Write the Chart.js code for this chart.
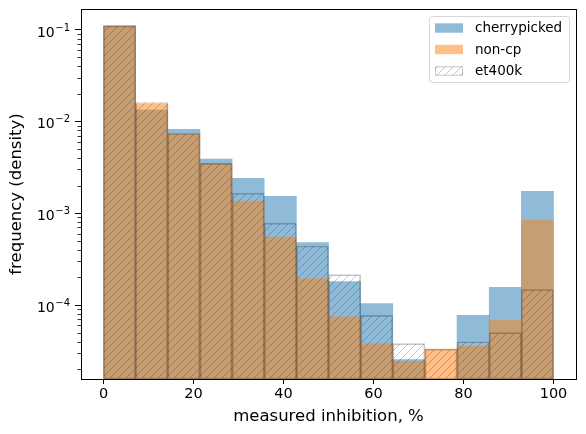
<!DOCTYPE html>
<html>
<head>
<meta charset="utf-8">
<script src="https://cdn.jsdelivr.net/npm/chart.js@4/dist/chart.umd.min.js"></script>
<style>
  html, body { margin: 0; padding: 0; background: #fff; }
  #wrap { width: 586px; height: 434px; }
</style>
</head>
<body>
<div id="wrap"><canvas id="histChart" width="586" height="434"></canvas></div>
<script>
// bin centres (14 equal bins over 0..100)
const binCenters = [3.57, 10.71, 17.86, 25, 32.14, 39.29, 46.43, 53.57, 60.71, 67.86, 75, 82.14, 89.29, 96.43];

const cherrypicked = [0.11, 0.0133, 0.0082, 0.0039, 0.0024, 0.00153, 0.00048, 0.00018, 0.000104, 2.55e-5, null, 7.7e-5, 0.000156, 0.00173];
const nonCp = [0.11, 0.0154, 0.0074, 0.0035, 0.00136, 0.00055, 0.000194, 7.45e-5, 3.8e-5, 2.43e-5, 3.31e-5, 3.54e-5, 6.8e-5, 0.00084];
const et400k = [0.11, 0.0161, 0.0074, 0.0035, 0.00165, 0.00078, 0.00044, 0.000214, 7.7e-5, 3.79e-5, 3.31e-5, 3.98e-5, 5.0e-5, 0.000147];

const xTicks = [0, 20, 40, 60, 80, 100];
const yTicks = [1e-4, 1e-3, 1e-2, 1e-1];
const seriesLabels = ['cherrypicked', 'non-cp', 'et400k'];

const FONT = 'DejaVu Sans';
const hatchEdge = 'rgba(0,0,0,0.22)';

function makeHatch() {
    const c = document.createElement('canvas');
    c.width = 8; c.height = 8;
    const g = c.getContext('2d');
    g.strokeStyle = hatchEdge;
    g.lineWidth = 1;
    g.beginPath();
    g.moveTo(0, 8); g.lineTo(8, 0);
    g.moveTo(-4, 4); g.lineTo(4, -4);
    g.moveTo(4, 12); g.lineTo(12, 4);
    g.stroke();
    return g.createPattern(c, 'repeat');
}
const hatch = makeHatch();

function toPoints(values) {
    return values.map((v, i) => ({ x: binCenters[i], y: v }));
}

const minorTicks = [];
for (let e = -5; e <= -1; e++) {
    for (let m = 2; m <= 9; m++) minorTicks.push(m * Math.pow(10, e));
}

const extras = {
    id: 'extras',
    afterDraw(chart) {
        const { ctx, chartArea: a, scales: { y } } = chart;
        ctx.save();
        ctx.strokeStyle = '#000';
        ctx.lineWidth = 0.8;
        minorTicks.forEach(v => {
            if (v < y.min || v > y.max) return;
            const py = Math.round(y.getPixelForValue(v)) + 0.5;
            ctx.beginPath();
            ctx.moveTo(a.left - 3.5, py);
            ctx.lineTo(a.left, py);
            ctx.stroke();
        });

        // y tick labels as 10 with a raised exponent
        ctx.fillStyle = '#000';
        ctx.textAlign = 'left';
        ctx.textBaseline = 'alphabetic';
        yTicks.forEach(v => {
            const py = y.getPixelForValue(v);
            const exp = '\u2212' + Math.abs(Math.round(Math.log10(v)));
            ctx.font = '14px "' + FONT + '"';
            const wBase = ctx.measureText('10').width;
            ctx.font = '10px "' + FONT + '"';
            const wExp = ctx.measureText(exp).width;
            const x0 = a.left - 11 - wBase - wExp - 0.5;
            ctx.font = '14px "' + FONT + '"';
            ctx.fillText('10', x0, py + 7);
            ctx.font = '10px "' + FONT + '"';
            ctx.fillText(exp, x0 + wBase + 0.5, py + 1);
        });

        // frame
        ctx.lineWidth = 1;
        ctx.strokeRect(Math.round(a.left) + 0.5, Math.round(a.top) + 0.5,
            Math.round(a.right - a.left), Math.round(a.bottom - a.top));

        // legend
        const bx = 429.5, by = 16.5, bw = 140, bh = 66, r = 3;
        ctx.beginPath();
        ctx.moveTo(bx + r, by);
        ctx.arcTo(bx + bw, by, bx + bw, by + bh, r);
        ctx.arcTo(bx + bw, by + bh, bx, by + bh, r);
        ctx.arcTo(bx, by + bh, bx, by, r);
        ctx.arcTo(bx, by, bx + bw, by, r);
        ctx.closePath();
        ctx.fillStyle = 'rgba(255,255,255,0.8)';
        ctx.fill();
        ctx.strokeStyle = '#d6d6d6';
        ctx.stroke();

        const ds = chart.data.datasets;
        const rowY = [28, 49.5, 71];
        ctx.font = '13.5px "' + FONT + '"';
        ctx.textBaseline = 'middle';
        ds.forEach((d, i) => {
            const py = rowY[i] - 4.7;
            ctx.fillStyle = d.backgroundColor;
            ctx.fillRect(435, py, 28, 9.4);
            if (d.borderWidth) {
                ctx.strokeStyle = d.borderColor;
                ctx.strokeRect(435.5, py + 0.5, 27, 8.4);
            }
            ctx.fillStyle = '#000';
            ctx.fillText(d.label, 475, rowY[i] + 0.5);
        });
        ctx.restore();
    }
};

const ctx = document.getElementById('histChart').getContext('2d');
new Chart(ctx, {
    type: 'bar',
    data: {
        datasets: [{
            label: seriesLabels[0],
            data: toPoints(cherrypicked),
            backgroundColor: 'rgba(31,119,180,0.5)',
            borderWidth: 0,
            order: 3
        }, {
            label: seriesLabels[1],
            data: toPoints(nonCp),
            backgroundColor: 'rgba(255,127,14,0.5)',
            borderWidth: 0,
            order: 2
        }, {
            label: seriesLabels[2],
            data: toPoints(et400k),
            backgroundColor: hatch,
            borderColor: hatchEdge,
            borderWidth: 1,
            borderSkipped: false,
            order: 1
        }]
    },
    options: {
        responsive: false,
        animation: false,
        events: [],
        layout: { padding: { top: 9, right: 10, left: 0, bottom: 0 } },
        datasets: {
            bar: { grouped: false, barPercentage: 1, categoryPercentage: 1 }
        },
        plugins: {
            legend: { display: false },
            tooltip: { enabled: false }
        },
        scales: {
            x: {
                type: 'linear',
                min: -5,
                max: 105,
                offset: false,
                afterFit: s => { s.height = 55; },
                afterBuildTicks: s => { s.ticks = xTicks.map(v => ({ value: v })); },
                grid: { display: true, offset: false, drawOnChartArea: false, tickLength: 5, color: '#000', lineWidth: 1 },
                border: { display: true, color: '#000', width: 1 },
                ticks: { color: '#000', font: { family: FONT, size: 14.5 }, padding: 2, maxRotation: 0 },
                title: { display: true, text: 'measured inhibition, %', color: '#000', font: { family: FONT, size: 16.5 }, padding: { top: 0, bottom: 7 } }
            },
            y: {
                type: 'logarithmic',
                min: 1.563e-5,
                max: 0.168,
                afterFit: s => { s.width = 81; },
                afterBuildTicks: s => { s.ticks = yTicks.map(v => ({ value: v })); },
                grid: { display: true, drawOnChartArea: false, tickLength: 6, color: '#000', lineWidth: 1 },
                border: { display: true, color: '#000', width: 1 },
                ticks: { display: false },
                title: { display: true, text: 'frequency (density)', color: '#000', font: { family: FONT, size: 16.5 }, padding: { top: 7, bottom: 0 } }
            }
        }
    },
    plugins: [extras]
});
</script>
</body>
</html>
